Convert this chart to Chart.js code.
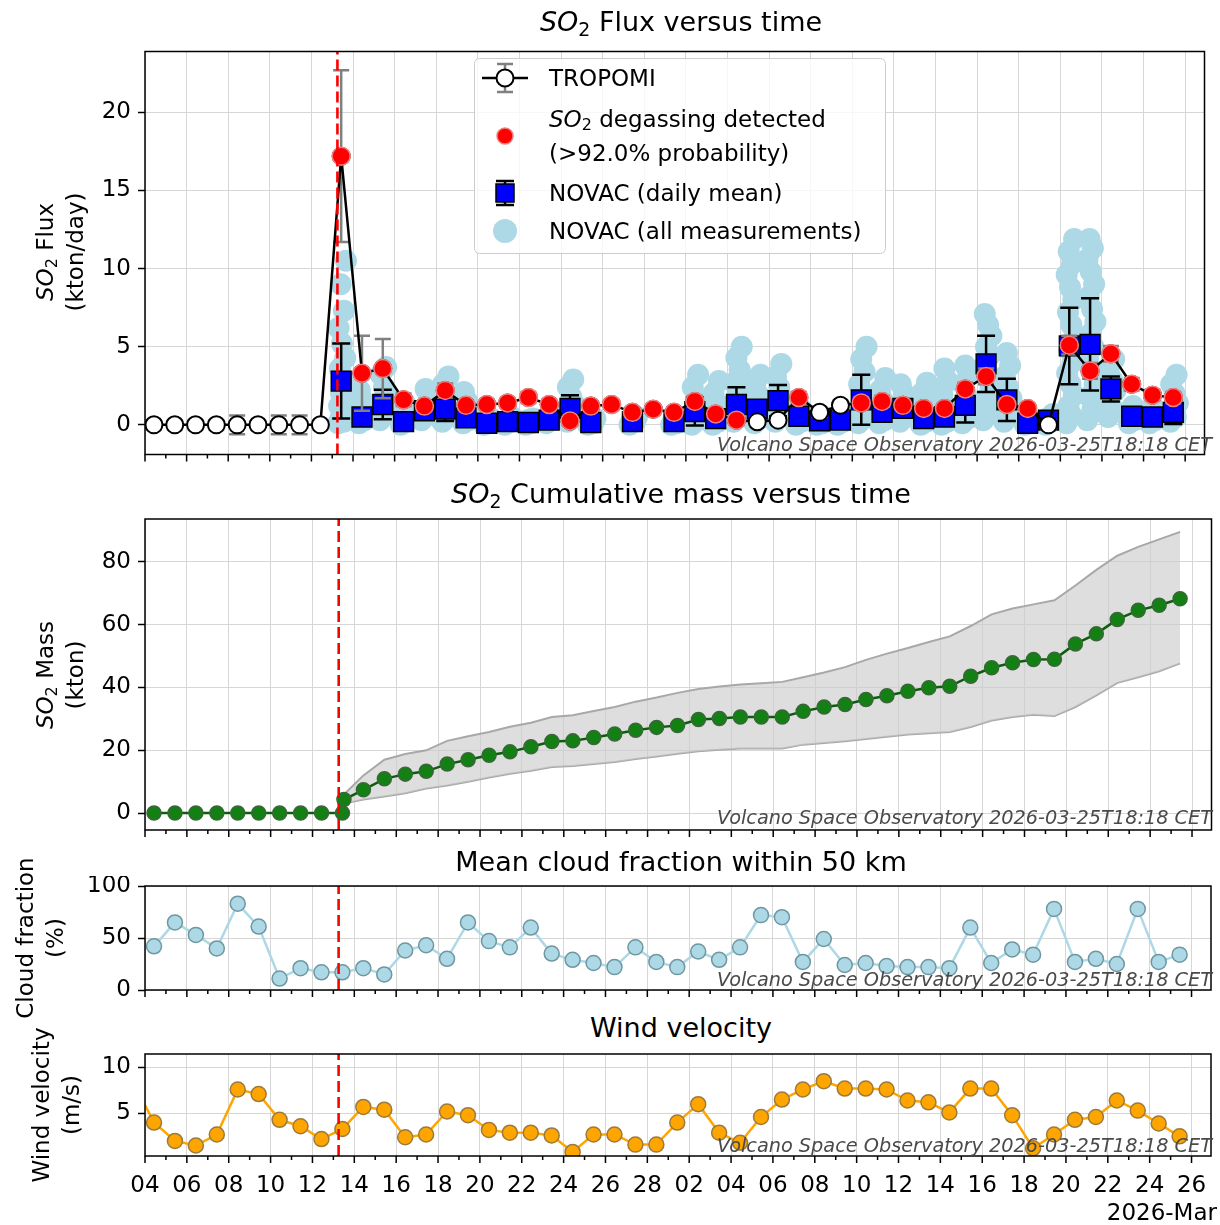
<!DOCTYPE html>
<html>
<head>
<meta charset="utf-8">
<title>SO2 flux</title>
<script src="https://cdn.jsdelivr.net/npm/chart.js@4.4.1/dist/chart.umd.min.js"></script>
<style>
  body { margin: 0; background: #fff; }
  #fig { position: relative; width: 1220px; height: 1225px; overflow: hidden; font-family: "DejaVu Sans", sans-serif; color: #000; }
  #fig canvas { position: absolute; left: 0; }
  .title { position: absolute; left: 145px; width: 1072px; text-align: center; font-size: 27px; line-height: 32px; margin-top: -16px; white-space: nowrap; }
  .ylab { position: absolute; width: 400px; margin-left: -200px; text-align: center; font-size: 23px; line-height: 30px; white-space: nowrap; transform: translateY(-50%) rotate(-90deg); }
  .stamp { position: absolute; right: 8px; font-size: 19.3px; font-style: italic; color: #4a4a4a; line-height: 22px; margin-top: -11px; white-space: nowrap; }
  .month { position: absolute; right: 3px; top: 1198px; font-size: 23px; line-height: 28px; }
  sub { font-size: 70%; vertical-align: -0.25em; line-height: 0; }
  #legend { position: absolute; left: 474px; top: 58px; }
</style>
</head>
<body>
<div id="fig">
  <canvas id="flux" width="1220" height="434" style="top:36px"></canvas>
  <canvas id="mass" width="1220" height="333" style="top:509px"></canvas>
  <canvas id="cloud" width="1220" height="126" style="top:876px"></canvas>
  <canvas id="wind" width="1220" height="181" style="top:1044px"></canvas>

  <div class="title" style="top:22px"><i>SO</i><sub>2</sub> Flux versus time</div>
  <div class="title" style="top:494px"><i>SO</i><sub>2</sub> Cumulative mass versus time</div>
  <div class="title" style="top:862px">Mean cloud fraction within 50 km</div>
  <div class="title" style="top:1028px">Wind velocity</div>

  <div class="ylab" style="left:60px;top:252px"><i>SO</i><sub>2</sub> Flux<br>(kton/day)</div>
  <div class="ylab" style="left:60px;top:675px"><i>SO</i><sub>2</sub> Mass<br>(kton)</div>
  <div class="ylab" style="left:40px;top:938px">Cloud fraction<br>(%)</div>
  <div class="ylab" style="left:56px;top:1105px">Wind velocity<br>(m/s)</div>

  <div class="stamp" style="top:445px">Volcano Space Observatory 2026-03-25T18:18 CET</div>
  <div class="stamp" style="top:818px">Volcano Space Observatory 2026-03-25T18:18 CET</div>
  <div class="stamp" style="top:980px">Volcano Space Observatory 2026-03-25T18:18 CET</div>
  <div class="stamp" style="top:1146px">Volcano Space Observatory 2026-03-25T18:18 CET</div>
  <div class="month">2026-Mar</div>

  <svg id="legend" width="413" height="197" font-family="DejaVu Sans" font-size="23">
    <rect x="0.5" y="0.5" width="411" height="195" rx="5" fill="#fff" fill-opacity="0.8" stroke="#cccccc"/>
    <line x1="8" y1="20" x2="54" y2="20" stroke="#000" stroke-width="2.5"/>
    <g stroke="#808080" stroke-width="2.5">
      <line x1="31" y1="6" x2="31" y2="34"/><line x1="23" y1="6" x2="39" y2="6"/><line x1="23" y1="34" x2="39" y2="34"/>
    </g>
    <circle cx="31" cy="20" r="8.5" fill="#fff" stroke="#000" stroke-width="2"/>
    <text x="75" y="20" dominant-baseline="central">TROPOMI</text>
    <circle cx="31" cy="78" r="8" fill="#ff0000" stroke="#f08080" stroke-width="1.5"/>
    <text x="75" y="61" dominant-baseline="central"><tspan font-style="italic">SO</tspan><tspan font-size="16" dy="5">2</tspan><tspan dy="-5"> degassing detected</tspan></text>
    <text x="75" y="95" dominant-baseline="central">(&gt;92.0% probability)</text>
    <g stroke="#000" stroke-width="2.5">
      <line x1="31" y1="123" x2="31" y2="147"/><line x1="22" y1="123" x2="40" y2="123"/><line x1="22" y1="147" x2="40" y2="147"/>
    </g>
    <rect x="22" y="126" width="18" height="18" fill="#0000ff" stroke="#000" stroke-width="1.5"/>
    <text x="75" y="135" dominant-baseline="central">NOVAC (daily mean)</text>
    <circle cx="31" cy="173" r="12" fill="#add8e6"/>
    <text x="75" y="173" dominant-baseline="central">NOVAC (all measurements)</text>
  </svg>
</div>

<script>
// dates of the daily points (TROPOMI overpass / daily means)
const days = ['2026-02-04','2026-02-05','2026-02-06','2026-02-07','2026-02-08','2026-02-09','2026-02-10',
  '2026-02-11','2026-02-12','2026-02-13','2026-02-14','2026-02-15','2026-02-16','2026-02-17','2026-02-18',
  '2026-02-19','2026-02-20','2026-02-21','2026-02-22','2026-02-23','2026-02-24','2026-02-25','2026-02-26',
  '2026-02-27','2026-02-28','2026-03-01','2026-03-02','2026-03-03','2026-03-04','2026-03-05','2026-03-06',
  '2026-03-07','2026-03-08','2026-03-09','2026-03-10','2026-03-11','2026-03-12','2026-03-13','2026-03-14',
  '2026-03-15','2026-03-16','2026-03-17','2026-03-18','2026-03-19','2026-03-20','2026-03-21','2026-03-22',
  '2026-03-23','2026-03-24','2026-03-25'];
const obsTime = 'T10:20';
const eruptionStart = '2026-02-13T06:00';

// TROPOMI flux (kton/day), its uncertainty and the detection flag
const tropomiFlux = [0,0,0,0,0,0,0,0,0, 17.2,3.3,3.6,1.6,1.2,2.2,1.25,1.3,1.4,1.75,1.3,0.25,1.2,1.3,0.8,1.0,
  0.8,1.5,0.7,0.3,0.2,0.3,1.75,0.8,1.25,1.4,1.5,1.25,1.05,1.05,2.3,3.1,1.3,1.05,0,5.1,3.45,4.55,2.6,1.9,1.75];
const tropomiErr = [0.3,0.3,0.3,0.3,0.6,0.3,0.6,0.6,0.3, 5.5,2.4,1.9,0.4,0.3,0.45,0.3,0.3,0.3,0.35,0.3,0.3,0.3,0.3,0.3,0.3,
  0.3,0.35,0.3,0.3,0.3,0.3,0.35,0.3,0.3,0.35,0.35,0.3,0.3,0.3,0.4,0.5,0.35,0.3,0.3,0.6,0.5,0.5,0.4,0.35,0.35];
const detected = [0,0,0,0,0,0,0,0,0, 1,1,1,1,1,1,1,1,1,1,1,1,1,1,1,1,
  1,1,1,1,0,0,1,0,0,1,1,1,1,1,1,1,1,1,0,1,1,1,1,1,1];

// NOVAC daily mean and standard deviation (kton/day)
const novacMean = [null,null,null,null,null,null,null,null,null, 2.8,0.5,1.3,0.2,0.9,1.0,0.45,0.1,0.2,0.15,0.3,1.05,0.15,null,0.2,null,
  0.2,0.85,0.4,1.3,1.0,1.55,0.55,0.25,0.3,1.6,0.8,1.05,0.4,0.5,1.25,3.9,1.6,0.1,0.3,5.05,5.15,2.3,0.55,0.5,0.8];
const novacErr = [null,null,null,null,null,null,null,null,null, 2.4,0.2,0.95,0.1,0.25,0.75,0.15,0.05,0.1,0.1,0.15,0.85,0.1,null,0.1,null,
  0.1,0.9,0.2,1.1,0.25,1.0,0.2,0.1,0.1,1.6,0.4,0.3,0.25,0.5,1.1,1.8,1.35,0.1,0.1,2.45,2.95,0.8,0.15,0.15,0.75];

// NOVAC individual scans, one list per day from 2026-02-13
const novacAll = [
  [0.1,0.2,0.4,0.6,0.9,1.2,1.6,2.0,2.5,3.0,3.6,4.3,5.2,6.2,7.3,9.0,10.5],
  [0.1,0.3,0.6,1.0,1.5,2.2],
  [0.3,0.8,1.2,1.8,2.4,3.2,3.7],
  [0,0.2,0.4,0.8,1.4],
  [0.3,0.6,1.0,1.6,2.3],
  [0.2,0.5,0.9,1.4,2.0,2.6,3.1],
  [0.1,0.3,0.6,1.0,1.5,2.1],
  [0,0.1,0.2,0.4],
  [0,0.2,0.3,0.5],
  [0,0.1,0.3,0.4],
  [0.1,0.3,0.5,0.8],
  [0.2,0.5,0.9,1.3,1.8,2.4,2.9],
  [0,0.1,0.3,0.4],
  [],
  [0,0.2,0.3,0.5],
  [],
  [0,0.1,0.3,0.4],
  [0,0.3,0.6,1.0,1.6,2.4,3.2],
  [0,0.2,0.5,0.9,1.4,2.0,2.8],
  [0.2,0.5,0.9,1.4,2.0,2.7,3.5,4.3,5.0],
  [0.1,0.4,0.8,1.3,1.9,2.6,3.2],
  [0.2,0.6,1.1,1.7,2.4,3.1,3.9],
  [0,0.2,0.5,0.8,1.1],
  [0,0.1,0.3,0.5],
  [0,0.2,0.3,0.5],
  [0.1,0.4,0.8,1.3,1.9,2.6,3.4,4.2,5.0],
  [0.1,0.3,0.6,1.0,1.5,2.2,3.0],
  [0.2,0.5,0.9,1.4,2.0,2.6],
  [0,0.2,0.4,0.8,1.3,2.0,2.7],
  [0,0.2,0.4,0.7,1.2,1.9,2.8,3.6],
  [0.1,0.4,0.8,1.3,1.9,2.6,3.2,3.8],
  [0.3,0.9,1.6,2.3,3.0,3.7,4.4,5.0,5.7,6.4,7.1],
  [0.2,0.6,1.1,1.7,2.4,3.1,3.8,4.6],
  [0,0.1,0.2,0.3],
  [0,0.2,0.4,0.7],
  [0.1,0.6,1.2,1.9,2.6,3.3,4.0,4.8,5.6,6.4,7.2,8.0,8.8,9.6,10.3,11.1,11.9],
  [0.3,1.0,1.8,2.6,3.4,4.2,5.0,5.8,6.6,7.4,8.2,9.0,9.8,10.6,11.3,11.9],
  [0.5,1.0,1.6,2.2,2.9,3.6,4.2],
  [0.1,0.3,0.6,0.9,1.2],
  [0.1,0.3,0.5,0.8,1.1],
  [0.2,0.5,0.9,1.4,2.0,2.6,3.2]
];

// cumulative SO2 mass (kton) with lower / upper bounds
const massValues = [0,0,0,0,0,0,0,0,0,0, 7.4,10.9,12.4,13.3,15.6,17.0,18.4,19.5,21.1,22.8,23.0,24.1,25.2,26.4,27.3,
  27.9,29.8,30.1,30.6,30.6,30.6,32.4,33.8,34.6,36.2,37.4,38.8,39.9,40.4,43.6,46.3,47.9,48.9,49.0,53.9,57.1,61.7,64.6,66.2,68.3];
const massHigh = [null,null,null,null,null,null,null,null,null,null, 12,17,18.8,20,23,24.5,25.8,27.5,28.8,30.6,31.2,32.5,33.8,35.5,36.8,
  38.3,39.5,40.3,41,41.4,41.8,43.3,44.8,46.5,48.8,50.8,52.6,54.5,56.3,59.6,63.3,65.2,66.5,67.8,72.5,77.5,82,84.8,87.2,89.6];
const massLow = [null,null,null,null,null,null,null,null,null,null, 4.3,5.3,6.3,7.8,8.8,10,11.3,12.5,13.5,14.7,15,15.6,16.3,17.2,18,
  18.9,19.7,20.2,20.6,20.6,20.6,21.8,22.3,22.9,23.6,24.3,25,25.4,25.8,27.4,29.5,30.6,31.3,30.9,33.8,37.5,41.5,43.3,45.2,47.7];
const onsetTime = '2026-02-13T12:00';
const onsetMass = [4.3, 3.0, 5.9]; // value, low, high

// mean cloud fraction (%) and wind velocity (m/s)
const cloudFraction = [42,65,53,40,83,61,11,21,17,17,21,15,38,43,30,65,47,41,60,35,29,26,22,
  41,27,22,37,29,41,72,70,27,49,24,26,23,22,22,21,60,26,39,34,78,27,30,25,78,27,34];
const windSpeed = [4.0,2.0,1.5,2.7,7.6,7.1,4.3,3.6,2.2,3.3,5.7,5.4,2.4,2.7,5.2,4.8,3.2,2.9,2.9,2.6,0.8,2.7,2.7,
  1.6,1.6,4.0,6.0,2.9,1.8,4.6,6.5,7.6,8.5,7.7,7.7,7.6,6.4,6.2,5.1,7.7,7.7,4.8,1.2,2.7,4.3,4.6,6.4,5.3,3.9,2.5];
const windPrevDay = '2026-02-03', windPrevValue = 8.4;

// x axis in days since 2026-02-04 00:00 UTC
const T0 = Date.UTC(2026, 1, 4);
const dayNum = s => (Date.parse(s + (s.length === 10 ? 'T00:00' : '') + 'Z') - T0) / 864e5;
const obsX = d => dayNum(d + obsTime);
const xMax = 50.93;
const gridColor = '#d6d6d6';

Chart.defaults.font.family = '"DejaVu Sans", sans-serif';
Chart.defaults.font.size = 23;
Chart.defaults.color = '#000';

const errorBars = {
  id: 'errorBars',
  beforeDatasetDraw(chart, args) {
    const ds = chart.data.datasets[args.index];
    if (!ds.errorColor) return;
    const { ctx, chartArea: a, scales: { y } } = chart;
    ctx.save();
    ctx.beginPath();
    ctx.rect(a.left, a.top, a.right - a.left, a.bottom - a.top);
    ctx.clip();
    ctx.strokeStyle = ds.errorColor;
    ctx.lineWidth = 2.5;
    args.meta.data.forEach((el, i) => {
      const p = ds.data[i];
      if (p.e == null) return;
      const top = y.getPixelForValue(p.y + p.e), bot = y.getPixelForValue(p.y - p.e), w = ds.capHalf;
      ctx.beginPath();
      ctx.moveTo(el.x, top); ctx.lineTo(el.x, bot);
      ctx.moveTo(el.x - w, top); ctx.lineTo(el.x + w, top);
      ctx.moveTo(el.x - w, bot); ctx.lineTo(el.x + w, bot);
      ctx.stroke();
    });
    ctx.restore();
  }
};

const frame = {
  id: 'frame',
  afterDatasetsDraw(chart) {
    const { ctx, chartArea: a, scales: { x } } = chart;
    const px = x.getPixelForValue(dayNum(eruptionStart));
    ctx.save();
    ctx.strokeStyle = '#ff0000';
    ctx.lineWidth = 2.6;
    ctx.setLineDash([11, 5]);
    ctx.beginPath();
    ctx.moveTo(px, a.bottom); ctx.lineTo(px, a.top);
    ctx.stroke();
    ctx.restore();
  },
  afterDraw(chart) {
    const { ctx, chartArea: a, scales: { x } } = chart;
    ctx.save();
    ctx.strokeStyle = '#000';
    ctx.lineWidth = 1.5;
    ctx.strokeRect(a.left, a.top, a.right - a.left, a.bottom - a.top);
    ctx.beginPath();
    for (let d = 0; d <= 51; d++) {
      const px = x.getPixelForValue(d);
      if (px > a.right + 0.5) break;
      ctx.moveTo(px, a.bottom);
      ctx.lineTo(px, a.bottom + (d % 2 ? 4 : 7));
    }
    ctx.stroke();
    ctx.restore();
  }
};
Chart.register(errorBars, frame);

function xAxis(showLabels, height) {
  return {
    type: 'linear', min: 0, max: xMax,
    grid: { color: gridColor, lineWidth: 1, drawTicks: false },
    border: { display: false },
    ticks: {
      display: showLabels, stepSize: 2, autoSkip: false, maxRotation: 0, includeBounds: false, padding: 16,
      callback: v => String(new Date(T0 + v * 864e5).getUTCDate()).padStart(2, '0')
    },
    afterFit: s => { s.height = height; s.paddingLeft = 0; s.paddingRight = 0; }
  };
}

function yAxis(min, max, step) {
  return {
    min, max,
    grid: { color: gridColor, lineWidth: 1, tickColor: '#000', tickLength: 7, tickWidth: 1.5 },
    border: { display: false },
    ticks: { stepSize: step, includeBounds: false, padding: 7 },
    afterFit: s => { s.width = 145; s.paddingTop = 0; s.paddingBottom = 0; }
  };
}

function panel(id, datasets, y, showLabels, xHeight) {
  return new Chart(document.getElementById(id), {
    type: 'line',
    data: { datasets },
    options: {
      responsive: false, animation: false, devicePixelRatio: 1,
      layout: { padding: { top: 10, right: 3, left: 0, bottom: 0 } },
      plugins: { legend: { display: false }, tooltip: { enabled: false } },
      scales: { x: xAxis(showLabels, xHeight), y }
    }
  });
}

// flux panel
const tropomiPts = days.map((d, i) => ({ x: obsX(d), y: tropomiFlux[i], e: tropomiErr[i] }));
const detectedPts = tropomiPts.filter((p, i) => detected[i]).map(p => ({ x: p.x, y: p.y }));
const novacPts = [];
days.forEach((d, i) => { if (novacMean[i] != null) novacPts.push({ x: obsX(d), y: novacMean[i], e: novacErr[i] }); });
const scanPts = [];
novacAll.forEach((vals, k) => {
  const d0 = dayNum(days[9 + k]);
  vals.forEach((v, j) => scanPts.push({ x: d0 + (7 + 10 * ((j * 0.618) % 1)) / 24, y: v }));
});

panel('flux', [
  { data: detectedPts, showLine: false, pointRadius: 9, pointBackgroundColor: '#ff0000',
    pointBorderColor: '#f08080', pointBorderWidth: 1.5, order: 0 },
  { data: tropomiPts, borderColor: '#000', borderWidth: 2.5, pointRadius: 8.5, pointBackgroundColor: '#fff',
    pointBorderColor: '#000', pointBorderWidth: 2, errorColor: '#808080', capHalf: 8, order: 1 },
  { data: novacPts, showLine: false, pointStyle: 'rect', pointRadius: 14, pointBackgroundColor: '#0000ff',
    pointBorderColor: '#000', pointBorderWidth: 1.5, errorColor: '#000', capHalf: 9, order: 2 },
  { data: scanPts, showLine: false, pointRadius: 11, pointBackgroundColor: '#add8e6', pointBorderWidth: 0, order: 3 }
], yAxis(-1.9, 23.9, 5), false, 12);

// cumulative mass panel
const massPts = [], highPts = [], lowPts = [];
days.forEach((d, i) => {
  massPts.push({ x: obsX(d), y: massValues[i] });
  if (massHigh[i] != null) { highPts.push({ x: obsX(d), y: massHigh[i] }); lowPts.push({ x: obsX(d), y: massLow[i] }); }
  if (d + obsTime < onsetTime && onsetTime.slice(0, 10) === d) {
    massPts.push({ x: dayNum(onsetTime), y: onsetMass[0] });
    lowPts.push({ x: dayNum(onsetTime), y: onsetMass[1] });
    highPts.push({ x: dayNum(onsetTime), y: onsetMass[2] });
  }
});

panel('mass', [
  { data: massPts, borderColor: '#0b5e0b', borderWidth: 2.5, pointRadius: 7, pointBackgroundColor: '#128012',
    pointBorderColor: '#3b663b', pointBorderWidth: 1.5, order: 0 },
  { data: highPts, borderColor: '#a8a8a8', borderWidth: 2, pointRadius: 0, fill: '+1',
    backgroundColor: 'rgba(205,205,205,0.65)', order: 1 },
  { data: lowPts, borderColor: '#a8a8a8', borderWidth: 2, pointRadius: 0, fill: false, order: 2 }
], yAxis(-5.4, 93.7, 20), false, 12);

// cloud fraction panel
panel('cloud', [
  { data: days.map((d, i) => ({ x: obsX(d), y: cloudFraction[i] })), borderColor: '#add8e6', borderWidth: 2.5,
    pointRadius: 7.5, pointBackgroundColor: '#add8e6', pointBorderColor: '#6f97a2', pointBorderWidth: 1.5 }
], yAxis(0, 100, 50), false, 12);

// wind panel
const windPts = [{ x: obsX(windPrevDay), y: windPrevValue }].concat(days.map((d, i) => ({ x: obsX(d), y: windSpeed[i] })));
panel('wind', [
  { data: windPts, borderColor: '#ffa500', borderWidth: 2.5, pointRadius: 7.5, pointBackgroundColor: '#ffa500',
    pointBorderColor: '#9c7a3c', pointBorderWidth: 1.5 }
], yAxis(0.36, 11.46, 5), true, 69);
</script>
</body>
</html>
